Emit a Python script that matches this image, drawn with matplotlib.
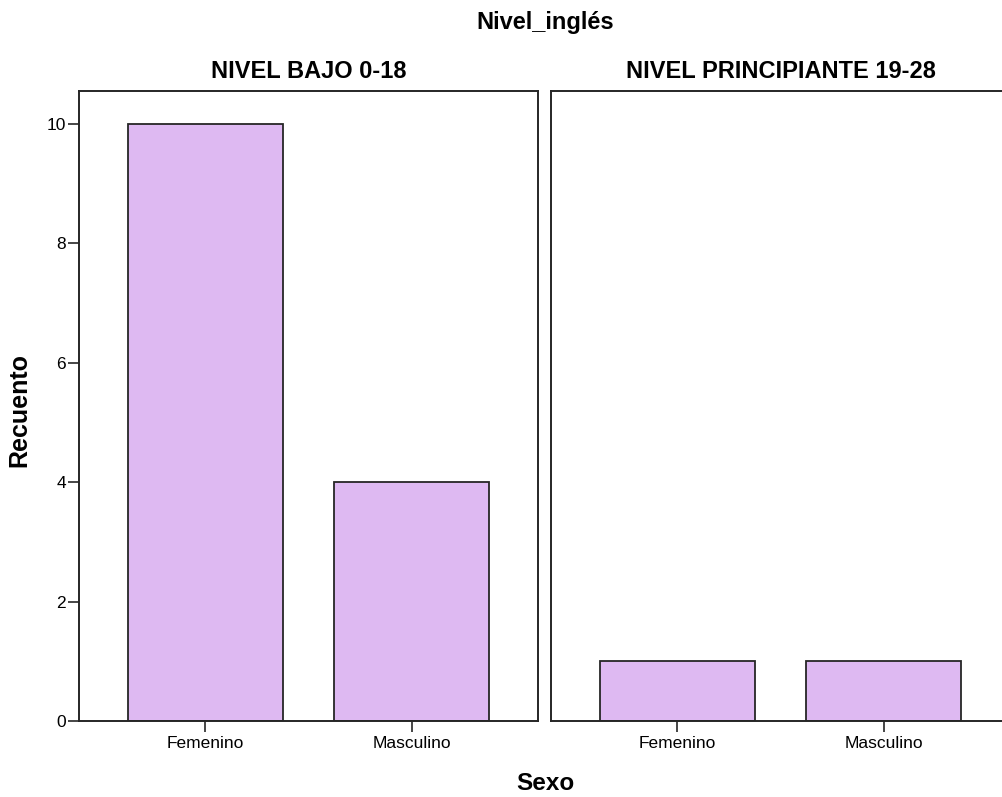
import matplotlib
matplotlib.use("Agg")
import matplotlib.pyplot as plt

# data
panels = ["NIVEL BAJO 0-18", "NIVEL PRINCIPIANTE 19-28"]
sexo = ["Femenino", "Masculino"]
recuento = [[10, 4], [1, 1]]
yticks = [0, 2, 4, 6, 8, 10]

plt.rcParams['font.family'] = ['Liberation Sans', 'DejaVu Sans']

W, H = 1003, 797
fig = plt.figure(figsize=(W / 100, H / 100), dpi=100)

# panel boxes in pixels (left, right, top, bottom)
boxes = [(79, 538, 91, 721), (551, 1010, 91, 721)]
bar_color = '#DEB9F2'
line_col = '#262626'

for i, (l, r, t, b) in enumerate(boxes):
    ax = fig.add_axes([l / W, (H - b) / H, (r - l) / W, (b - t) / H])
    ax.bar(range(len(sexo)), recuento[i], width=0.75, color=bar_color,
           edgecolor=line_col, linewidth=1.3)
    ax.set_xlim(-0.61, 1.61)
    ax.set_ylim(0, 10.55)
    ax.set_xticks(range(len(sexo)))
    ax.set_xticklabels(sexo, fontsize=12.5)
    ax.tick_params(axis='x', length=8, width=1.2, color=line_col, pad=3)
    if i == 0:
        ax.set_yticks(yticks)
        ax.set_yticklabels([str(v) for v in yticks], fontsize=12.5)
        ax.tick_params(axis='y', length=8, width=1.2, color=line_col, pad=1.5)
    else:
        ax.set_yticks([])
    for s in ax.spines.values():
        s.set_color(line_col)
        s.set_linewidth(1.4)
    # panel title
    fig.text((l + r) / 2 / W, 1 - 78 / H, panels[i], ha='center',
             va='baseline', fontsize=17, fontweight='bold')

fig.text(545 / W, 1 - 29 / H, "Nivel_inglés", ha='center', va='baseline',
         fontsize=17, fontweight='bold')
fig.text(545 / W, 1 - 790 / H, "Sexo", ha='center', va='baseline',
         fontsize=17.5, fontweight='bold')
fig.text(19 / W, 1 - 410 / H, "Recuento", ha='center', va='center',
         fontsize=18, fontweight='bold', rotation=90)

fig.savefig("out.png", dpi=100)
